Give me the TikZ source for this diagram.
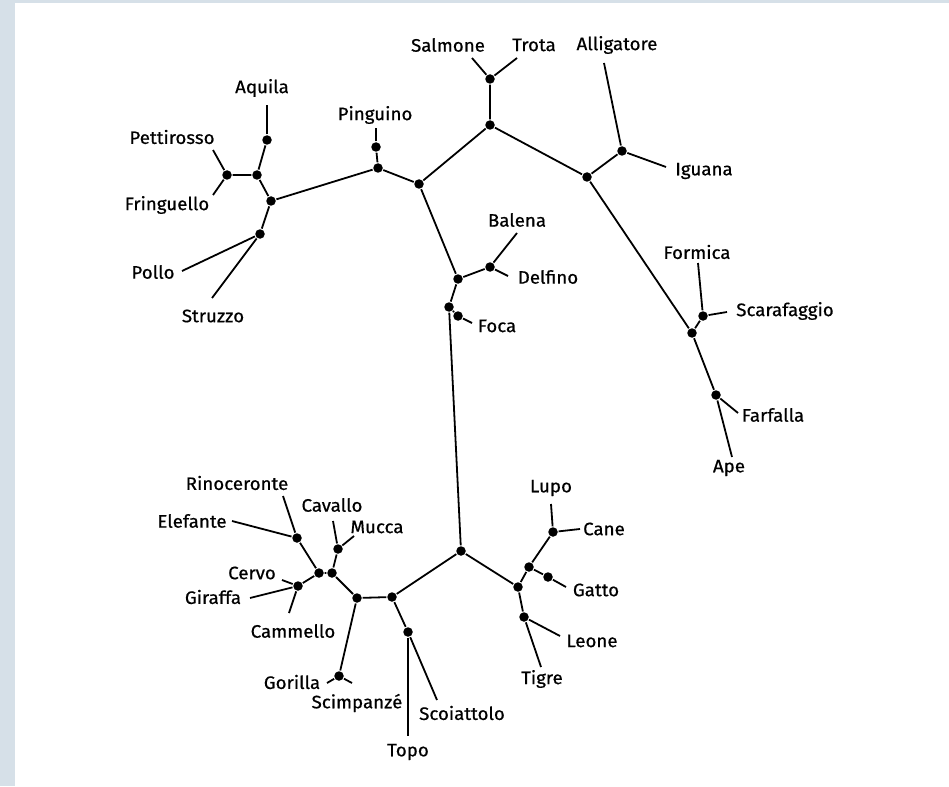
\documentclass[tikz,border=0pt]{standalone}
\usepackage{fontspec}
\setmainfont{Fira Sans}[FakeStretch=1.04, FakeBold=0.6]
\usepackage{tikz}
\definecolor{paneblue}{RGB}{214,224,232}

\begin{document}
\begin{tikzpicture}[x=1pt, y=-1pt,
    dot/.style={circle, fill=black, inner sep=0pt, minimum size=9.5pt},
    lab/.style={inner sep=1pt, font=\fontsize{18}{20}\selectfont},
    every path/.style={line width=1.8pt}]
    \useasboundingbox (0,0) rectangle (949,786);
    \fill[paneblue] (0,0) rectangle (949,786);
    \fill[white] (15,3) rectangle (949,786);

    \node[dot] (aq) at (267,140) {};
    \node[dot] (pf) at (227,175) {};
    \node[dot] (bq) at (257,175) {};
    \node[dot] (br) at (271,201) {};
    \node[dot] (ps) at (260,234) {};
    \node[dot] (pg) at (376,147) {};
    \node[dot] (pr) at (378,168) {};
    \node[dot] (b) at (419,184) {};
    \node[dot] (top) at (490,125) {};
    \node[dot] (st) at (490,79) {};
    \node[dot] (d) at (587,177) {};
    \node[dot] (ai) at (622,151) {};
    \node[dot] (f) at (692,333) {};
    \node[dot] (fs) at (703,316) {};
    \node[dot] (h) at (716,395) {};
    \node[dot] (c) at (458,279) {};
    \node[dot] (bd) at (490,267) {};
    \node[dot] (j) at (449,307) {};
    \node[dot] (fc) at (458,316) {};
    \node[dot] (l) at (461,551) {};
    \node[dot] (n) at (518,587) {};
    \node[dot] (o) at (529,567) {};
    \node[dot] (lc) at (553,532) {};
    \node[dot] (ga) at (548,577) {};
    \node[dot] (lt) at (524,617) {};
    \node[dot] (v) at (392,597) {};
    \node[dot] (u) at (357,598) {};
    \node[dot] (tb) at (332,573) {};
    \node[dot] (ta) at (319,573) {};
    \node[dot] (cg) at (298,586) {};
    \node[dot] (re) at (297,538) {};
    \node[dot] (mc) at (338,549) {};
    \node[dot] (gs) at (339,676) {};
    \node[dot] (w) at (408,632) {};

    \draw (aq) -- (bq) (pf) -- (bq) (bq) -- (br) (br) -- (ps) (br) -- (pr);
    \draw (pr) -- (pg) (pr) -- (b) (b) -- (top) (b) -- (c);
    \draw (top) -- (st) (top) -- (d) (d) -- (ai) (d) -- (f) (f) -- (fs) (f) -- (h);
    \draw (c) -- (bd) (c) -- (j) (j) -- (fc) (j) -- (l);
    \draw (l) -- (v) (l) -- (n) (n) -- (o) (o) -- (lc) (o) -- (ga) (n) -- (lt);
    \draw (v) -- (u) (v) -- (w) (u) -- (tb) (tb) -- (ta) (tb) -- (mc);
    \draw (ta) -- (re) (ta) -- (cg) (u) -- (gs);

    \foreach \nm/\up/\ex/\ey/\lx/\ly/\txt in {
        Aquila/aq/267/105/262/88/Aquila,
        Pettirosso/pf/213/150/172/137/Pettirosso,
        Fringuello/pf/213/195/167/205/Fringuello,
        Pollo/ps/182/271/153/272/Pollo,
        Struzzo/ps/212/298/213/316/Struzzo,
        Pinguino/pg/376/128/375/115/Pinguino,
        Salmone/st/472/58/448/45/Salmone,
        Trota/st/517/58/534/45/Trota,
        Alligatore/ai/604/63/617/45/Alligatore,
        Iguana/ai/666/167/704/171/Iguana,
        Balena/bd/517/233/517/220/Balena,
        Delfino/bd/508/276/548/277/Delfino,
        Foca/fc/472/323/497/326/Foca,
        Formica/fs/698/263/697/252/Formica,
        Scarafaggio/fs/727/312/785/311/Scarafaggio,
        Farfalla/h/738/413/773/415/Farfalla,
        Ape/h/732/457/729/468/Ape,
        Rinoceronte/re/283/496/237/483/Rinoceronte,
        Elefante/re/232/521/192/521/Elefante,
        Cervo/cg/282/580/252/573/Cervo,
        Giraffa/cg/250/598/213/597/Giraffa,
        Cammello/cg/289/613/293/631/Cammello,
        Cavallo/mc/333/521/332/505/Cavallo,
        Mucca/mc/354/536/377/527/Mucca,
        Gorilla/gs/327/683/292/682/Gorilla,
        Scimpanze/gs/352/683/357/703/Scimpanzé,
        Topo/w/408/736/408/752/Topo,
        Scoiattolo/w/437/700/462/713/Scoiattolo,
        Lupo/lc/551/504/551/488/Lupo,
        Cane/lc/580/529/604/529/Cane,
        Gatto/ga/566/587/596/590/Gatto,
        Leone/lt/560/636/592/641/Leone,
        Tigre/lt/541/667/542/679/Tigre} {
        \coordinate (e\nm) at (\ex,\ey);
        \node[lab] (l\nm) at (\lx,\ly) {\txt};
        \draw (\up) -- (e\nm);
    }
\end{tikzpicture}
\end{document}
